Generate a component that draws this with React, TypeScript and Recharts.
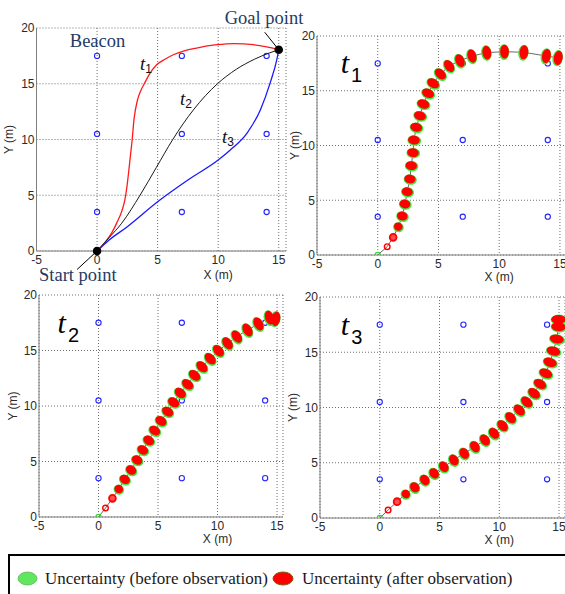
import React from 'react';
import { ScatterChart, Scatter, XAxis, YAxis, CartesianGrid, ReferenceDot } from 'recharts';

// ---------- data ----------
const beaconXs = [0, 7, 14];
const beaconYs = [3.5, 10.5, 17.5];
const xTicks = [-5, 0, 5, 10, 15];
const yTicks = [0, 5, 10, 15, 20];

// planned paths (top-left panel)
const path1X = [0, 0.6, 1.2, 1.62, 2.05, 2.3, 2.47, 2.6, 2.75, 2.9, 3.05, 3.33, 3.6, 3.9, 4.29, 4.92, 5.6, 6.3, 7.2, 8.2, 9.9, 11.3, 12.9, 14.0, 15];
const path1Y = [0, 0.7, 1.6, 2.5, 3.6, 4.6, 5.8, 7.0, 8.5, 10.0, 11.8, 13.5, 14.35, 15.0, 15.8, 16.7, 17.2, 17.6, 17.95, 18.2, 18.5, 18.6, 18.5, 18.3, 18.05];
const path2X = [0, 1.0, 2.04, 3.55, 4.9, 6.25, 7.95, 9.94, 11.5, 13.0, 14.2, 15];
const path2Y = [0, 1.2, 2.5, 5.0, 7.5, 10.0, 12.65, 15.0, 16.3, 17.2, 17.75, 18.05];
const path3X = [0, 1.0, 2.5, 5.0, 7.5, 10.0, 11.0, 12.4, 13.5, 14.3, 14.85, 15];
const path3Y = [0, 0.99, 2.18, 4.42, 6.37, 8.16, 9.06, 10.6, 12.7, 15.1, 17.2, 18.05];

const startPoint = { x: 0, y: 0 };
const goalPoint = { x: 15, y: 18.05 };

// estimated trajectories with uncertainty ellipses
const traj1X = [0, 0.78, 1.27, 1.69, 2.02, 2.24, 2.43, 2.65, 2.76, 2.9, 2.98, 3.17, 3.48, 3.75, 4.14, 4.56, 5.16, 5.88, 6.77, 7.76, 8.98, 10.44, 12.04, 13.89, 14.86];
const traj1Y = [0, 0.76, 1.61, 2.59, 3.56, 4.66, 5.78, 6.94, 8.16, 9.35, 10.5, 11.66, 12.72, 13.79, 14.77, 15.68, 16.53, 17.26, 17.75, 18.17, 18.48, 18.57, 18.51, 18.17, 18.0];
const traj2X = [0, 0.59, 1.17, 1.7, 2.21, 2.74, 3.24, 3.72, 4.22, 4.72, 5.25, 5.81, 6.31, 6.87, 7.49, 8.07, 8.69, 9.39, 10.08, 10.84, 11.62, 12.52, 13.44, 14.36, 14.9];
const traj2Y = [0, 0.81, 1.68, 2.52, 3.39, 4.23, 5.13, 6.04, 6.9, 7.78, 8.65, 9.49, 10.33, 11.17, 11.95, 12.76, 13.54, 14.26, 14.98, 15.65, 16.25, 16.85, 17.39, 17.96, 17.85];
const traj3X = [0, 0.7, 1.45, 2.18, 2.93, 3.77, 4.55, 5.36, 6.2, 7.07, 7.96, 8.8, 9.56, 10.28, 10.95, 11.68, 12.3, 12.91, 13.41, 13.89, 14.25, 14.53, 14.81, 14.95, 14.95];
const traj3Y = [0, 0.72, 1.48, 2.17, 2.78, 3.44, 4.04, 4.64, 5.25, 5.85, 6.45, 7.06, 7.66, 8.36, 9.08, 9.77, 10.5, 11.28, 12.13, 13.09, 14.09, 15.11, 16.2, 17.31, 17.98];

const annotations = { start: 'Start point', goal: 'Goal point', beacon: 'Beacon' };
const trajNames = ['1', '2', '3'];
const legendLabels = ['Uncertainty (before observation)', 'Uncertainty (after observation)'];

// ---------- tables ----------
const beacons = beaconXs.flatMap((x) => beaconYs.map((y) => ({ x, y })));
const toLine = (xs: number[], ys: number[]) => xs.map((x, i) => ({ x, y: ys[i] }));
const toTraj = (xs: number[], ys: number[]) =>
  xs.map((x, i) => {
    const p = Math.max(0, i - 1);
    const q = Math.min(xs.length - 1, i + 1);
    const ang = (Math.atan2(-(ys[q] - ys[p]) * 11, (xs[q] - xs[p]) * 12) * 180) / Math.PI;
    return { x, y: ys[i], i, n: xs.length, ang };
  });
const path1 = toLine(path1X, path1Y);
const path2 = toLine(path2X, path2Y);
const path3 = toLine(path3X, path3Y);
const traj1 = toTraj(traj1X, traj1Y);
const traj2 = toTraj(traj2X, traj2Y);
const traj3 = toTraj(traj3X, traj3Y);

// ---------- styles ----------
const SANS = 'Liberation Sans, Arial, sans-serif';
const SERIF = 'Liberation Serif, Times New Roman, serif';
const NAVY = '#1f3a63';
const RED = '#ff0000';
const GREEN = '#3fe83f';

const ellSize = (i: number, n: number) => {
  if (i === 3) return [4.4, 4.1];
  return [5.0 + 2.2 * (i / (n - 1)), 4.4];
};

const BeaconShape = (p: any) => (
  <circle cx={p.cx} cy={p.cy} r={2.6} fill="none" stroke="#2424ff" strokeWidth={1.1} />
);
const NoShape = () => <g />;

const GreenShape = (p: any) => {
  const { cx, cy, payload } = p;
  const { i, n, ang } = payload;
  if (i === 0) return <circle cx={cx} cy={cy} r={2.6} fill="none" stroke="#33d633" strokeWidth={1.1} />;
  if (i < 3) return <g />;
  const [a, b] = ellSize(i, n);
  return (
    <ellipse
      cx={cx - 0.5}
      cy={cy + 0.4}
      rx={b + 0.8}
      ry={a + 1.0}
      fill={GREEN}
      transform={`rotate(${ang} ${cx} ${cy})`}
    />
  );
};

const RedShape = (p: any) => {
  const { cx, cy, payload } = p;
  const { i, n, ang } = payload;
  if (i === 0) return <g />;
  if (i === 1) return <circle cx={cx} cy={cy} r={2.8} fill="none" stroke={RED} strokeWidth={1.4} />;
  if (i === 2) return <circle cx={cx} cy={cy} r={3.4} fill="#ff5050" stroke={RED} strokeWidth={1.8} />;
  const [a, b] = ellSize(i, n);
  return <ellipse cx={cx} cy={cy} rx={b} ry={a} fill={RED} transform={`rotate(${ang} ${cx} ${cy})`} />;
};

const smallT = (sub: string) => (p: any) => (
  <text x={p.cx} y={p.cy} fontFamily={SERIF} fontSize={19} fontStyle="italic" fill="#111">
    t
    <tspan fontSize={12} fontStyle="normal" fontFamily={SANS} dy={3}>
      {sub}
    </tspan>
  </text>
);
const bigT = (sub: string) => (p: any) => (
  <text x={p.cx} y={p.cy} fontFamily={SERIF} fontSize={30} fontStyle="italic" fill="#000">
    t
    <tspan fontSize={20} fontStyle="normal" fontFamily={SANS} dx={2} dy={9}>
      {sub}
    </tspan>
  </text>
);

const GoalShape = (p: any) => (
  <g>
    <line x1={p.cx - 14} y1={p.cy - 17.5} x2={p.cx} y2={p.cy} stroke="#000" strokeWidth={1} />
    <circle cx={p.cx} cy={p.cy} r={4.3} fill="#000" />
    <text x={p.cx - 54} y={p.cy - 26} fontFamily={SERIF} fontSize={18.5} fill={NAVY}>
      {annotations.goal}
    </text>
  </g>
);
const StartShape = (p: any) => (
  <g>
    <line x1={p.cx - 20} y1={p.cy + 18.5} x2={p.cx} y2={p.cy} stroke="#000" strokeWidth={1} />
    <circle cx={p.cx} cy={p.cy} r={4.3} fill="#000" />
    <text x={p.cx - 58} y={p.cy + 29.5} fontFamily={SERIF} fontSize={18.5} fill={NAVY}>
      {annotations.start}
    </text>
  </g>
);
const BeaconLabel = (p: any) => (
  <text x={p.cx + 0.5} y={p.cy - 9} textAnchor="middle" fontFamily={SERIF} fontSize={18.5} fill={NAVY}>
    {annotations.beacon}
  </text>
);

type Cfg = {
  left: number;
  top: number;
  w: number;
  h: number;
  margin: { top: number; right: number; bottom: number; left: number };
  yw: number;
  xMax: number;
  xlOff: number;
  ylOff: number;
};

const cfgTL: Cfg = { left: 0, top: 0, w: 310, h: 290, margin: { top: 28, right: 24, bottom: 9, left: 0 }, yw: 36.5, xMax: 15.6, xlOff: 27.5, ylOff: 24 };
const cfgTR: Cfg = { left: 280, top: 0, w: 290, h: 290, margin: { top: 36, right: 4, bottom: 5, left: 0 }, yw: 37, xMax: 15.5, xlOff: 25.5, ylOff: 18 };
const cfgBL: Cfg = { left: 0, top: 265, w: 290, h: 290, margin: { top: 30, right: 7, bottom: 8, left: 0 }, yw: 39, xMax: 15.5, xlOff: 25.5, ylOff: 22.5 };
const cfgBR: Cfg = { left: 280, top: 265, w: 290, h: 290, margin: { top: 32, right: 5, bottom: 7, left: 0 }, yw: 40, xMax: 15.5, xlOff: 26, ylOff: 23 };

const tickStyle = { fill: '#2a2a2a', fontSize: 12, fontFamily: SANS };

function Panel({ cfg, children }: { cfg: Cfg; children: React.ReactNode }) {
  const xLabel = (p: any) => {
    const vb = p.viewBox;
    const x = vb.x + (vb.width * (10 + 5)) / (cfg.xMax + 5);
    return (
      <text x={x} y={vb.y + cfg.xlOff} textAnchor="middle" fontFamily={SANS} fontSize={12} fill="#2a2a2a">
        X (m)
      </text>
    );
  };
  const yLabel = (p: any) => {
    const vb = p.viewBox;
    const x = vb.x + vb.width - cfg.ylOff;
    const y = vb.y + vb.height / 2;
    return (
      <text x={x} y={y} textAnchor="middle" transform={`rotate(-90 ${x} ${y})`} fontFamily={SANS} fontSize={12} fill="#2a2a2a">
        Y (m)
      </text>
    );
  };
  return (
    <div style={{ position: 'absolute', left: cfg.left, top: cfg.top }}>
      <ScatterChart width={cfg.w} height={cfg.h} margin={cfg.margin}>
        <CartesianGrid stroke="#6e6e6e" strokeDasharray="1 2" strokeWidth={1} />
        <XAxis
          type="number"
          dataKey="x"
          domain={[-5, cfg.xMax]}
          ticks={xTicks}
          interval={0}
          allowDataOverflow
          height={30}
          tickLine={false}
          tickSize={4}
          tickMargin={0}
          axisLine={{ stroke: '#7f7f7f', strokeWidth: 1 }}
          tick={tickStyle}
          label={xLabel}
        />
        <YAxis
          type="number"
          dataKey="y"
          domain={[0, 20]}
          ticks={yTicks}
          interval={0}
          allowDataOverflow
          width={cfg.yw}
          tickLine={false}
          tickSize={2}
          tickMargin={0}
          axisLine={{ stroke: '#7f7f7f', strokeWidth: 1 }}
          tick={tickStyle}
          label={yLabel}
        />
        {children}
      </ScatterChart>
    </div>
  );
}

function TrajPanel({ cfg, data, name, labelAt }: { cfg: Cfg; data: any[]; name: string; labelAt: { x: number; y: number } }) {
  return (
    <Panel cfg={cfg}>
      <Scatter data={beacons} shape={BeaconShape} isAnimationActive={false} />
      <Scatter
        data={data}
        shape={GreenShape}
        line={{ stroke: '#6a6a6a', strokeWidth: 1 }}
        lineType="joint"
        isAnimationActive={false}
      />
      <Scatter data={data} shape={RedShape} isAnimationActive={false} />
      <ReferenceDot x={labelAt.x} y={labelAt.y} r={0} shape={bigT(name)} ifOverflow="visible" />
    </Panel>
  );
}

export default function App() {
  return (
    <div
      style={{
        position: 'absolute',
        left: 0,
        top: 0,
        width: 565,
        height: 594,
        overflow: 'hidden',
        background: '#fff',
      }}
    >
      <Panel cfg={cfgTL}>
        <Scatter data={beacons} shape={BeaconShape} isAnimationActive={false} />
        <Scatter data={path1} shape={NoShape} line={{ stroke: '#ff1a1a', strokeWidth: 1.3 }} lineType="joint" lineJointType="monotoneX" isAnimationActive={false} />
        <Scatter data={path2} shape={NoShape} line={{ stroke: '#1a1a1a', strokeWidth: 1 }} lineType="joint" lineJointType="monotoneX" isAnimationActive={false} />
        <Scatter data={path3} shape={NoShape} line={{ stroke: '#1a1aff', strokeWidth: 1.3 }} lineType="joint" lineJointType="monotoneX" isAnimationActive={false} />
        <ReferenceDot x={3.55} y={16.23} r={0} shape={smallT(trajNames[0])} ifOverflow="visible" />
        <ReferenceDot x={6.85} y={13.1} r={0} shape={smallT(trajNames[1])} ifOverflow="visible" />
        <ReferenceDot x={10.31} y={9.69} r={0} shape={smallT(trajNames[2])} ifOverflow="visible" />
        <ReferenceDot x={beaconXs[0]} y={beaconYs[2]} r={0} shape={BeaconLabel} ifOverflow="visible" />
        <ReferenceDot x={startPoint.x} y={startPoint.y} r={4.3} shape={StartShape} ifOverflow="visible" />
        <ReferenceDot x={goalPoint.x} y={goalPoint.y} r={4.3} shape={GoalShape} ifOverflow="visible" />
      </Panel>
      <TrajPanel cfg={cfgTR} data={traj1} name={trajNames[0]} labelAt={{ x: -3.05, y: 16.6 }} />
      <TrajPanel cfg={cfgBL} data={traj2} name={trajNames[1]} labelAt={{ x: -3.44, y: 16.58 }} />
      <TrajPanel cfg={cfgBR} data={traj3} name={trajNames[2]} labelAt={{ x: -3.26, y: 16.56 }} />
      <svg width={565} height={54} style={{ position: 'absolute', left: 0, top: 540 }}>
        <rect x={9} y={15} width={600} height={60} fill="#fff" stroke="#000" strokeWidth={2} />
        <ellipse cx={27.5} cy={38.5} rx={9.5} ry={6.5} fill="#5fe85f" stroke="#4a9a4a" strokeWidth={0.6} />
        <text x={45} y={43.5} fontFamily={SERIF} fontSize={17} fill="#1a1a1a">
          {legendLabels[0]}
        </text>
        <ellipse cx={283} cy={38.5} rx={10} ry={6.5} fill={RED} stroke="#7a5a10" strokeWidth={1} />
        <text x={302} y={43.5} fontFamily={SERIF} fontSize={17} fill="#1a1a1a">
          {legendLabels[1]}
        </text>
      </svg>
    </div>
  );
}
